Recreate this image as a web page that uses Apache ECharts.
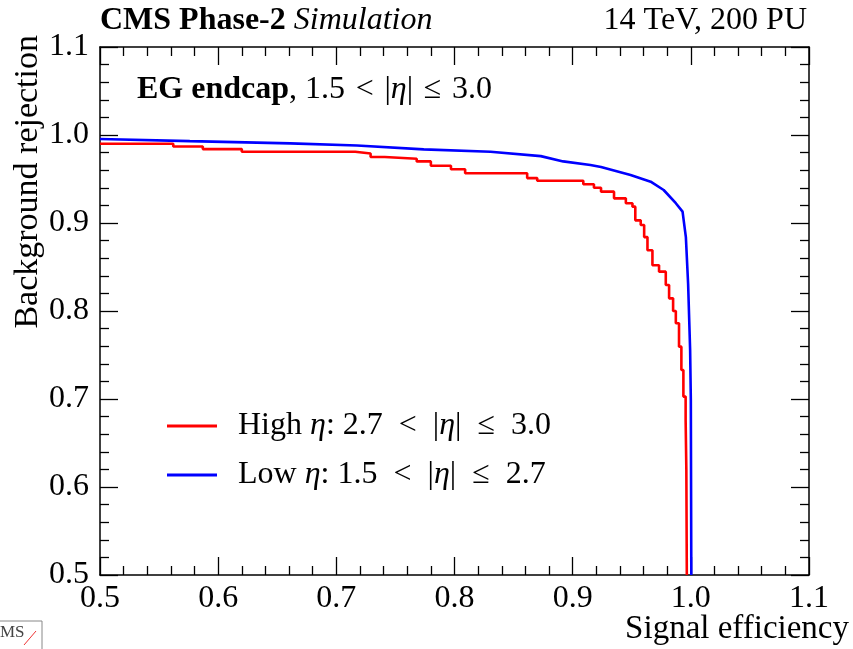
<!DOCTYPE html>
<html><head><meta charset="utf-8">
<script src="https://cdn.jsdelivr.net/npm/echarts@6/dist/echarts.min.js"></script>
<style>html,body{margin:0;padding:0;background:#fff}#c{width:853px;height:649px}</style>
</head><body><div id="c"></div>
<script>
// ---- data ----
const xTickLabels = ['0.5','0.6','0.7','0.8','0.9','1.0','1.1'];
const yTickLabels = ['0.5','0.6','0.7','0.8','0.9','1.0','1.1'];
const seriesNames = ['High η: 2.7 < |η| ≤ 3.0', 'Low η: 1.5 < |η| ≤ 2.7'];
// High eta (red), stepped ROC curve
const highEtaX = [0.500,0.562,0.587,0.620,0.716,0.729,0.741,0.768,0.780,0.797,0.809,0.8615,0.870,0.909,0.918,0.924,0.935,0.945,0.9506,0.953,0.9576,0.9605,0.9633,0.9675,0.9731,0.9788,0.9816,0.9850,0.9873,0.9900,0.9920,0.9937,0.9956,0.9962,0.9966];
const highEtaY = [0.990,0.987,0.984,0.981,0.979,0.975,0.973,0.970,0.965,0.961,0.9565,0.951,0.948,0.944,0.940,0.9356,0.928,0.9224,0.9186,0.903,0.8977,0.884,0.869,0.852,0.8447,0.8295,0.8144,0.800,0.786,0.7595,0.733,0.7027,0.676,0.620,0.500];
// Low eta (blue)
const lowEtaX = [0.500,0.576,0.661,0.7175,0.774,0.8305,0.873,0.892,0.915,0.924,0.949,0.966,0.977,0.9873,0.993,0.9958,0.9977,0.9994,1.0000,1.0004];
const lowEtaY = [0.9955,0.993,0.9905,0.988,0.9837,0.981,0.976,0.970,0.966,0.9636,0.9545,0.947,0.9375,0.9225,0.913,0.884,0.831,0.756,0.699,0.500];

const FONT = 'Liberation Serif';
const xMin = parseFloat(xTickLabels[0]), xMax = parseFloat(xTickLabels[xTickLabels.length-1]);
const yMin = parseFloat(yTickLabels[0]), yMax = parseFloat(yTickLabels[yTickLabels.length-1]);
const step = 0.1;

function pairs(xs, ys){ return xs.map((x,i)=>[x, ys[i]]); }

function mkAxis(kind, pos, labels){
  const isX = kind === 'x';
  return {
    type: 'value',
    position: pos,
    min: isX ? xMin : yMin,
    max: isX ? xMax : yMax,
    interval: step,
    axisLine: {show: true, onZero: false, lineStyle: {color: '#000', width: 1.5}},
    axisTick: {show: true, inside: true, length: 18, lineStyle: {color: '#000', width: 1.3}},
    minorTick: {show: true, splitNumber: 5, length: 9, lineStyle: {color: '#000', width: 1.3}},
    splitLine: {show: false},
    minorSplitLine: {show: false},
    axisLabel: labels ? {
      show: true,
      fontFamily: FONT, fontSize: 32, color: '#000',
      margin: isX ? 8 : 11,
      formatter: v => (isX ? xTickLabels : yTickLabels)[Math.round((v - (isX?xMin:yMin))/step)]
    } : {show: false}
  };
}

// math-like spacing around relation symbols
function mathSpace(s){ return s.replace(/ < /g, '  <  ').replace(/ ≤ /g, '  ≤  '); }

const chart = echarts.init(document.getElementById('c'), null, {renderer: 'canvas'});
const legendRich = {
  n: {fontFamily: FONT, fontSize: 32, color: '#000'},
  i: {fontFamily: FONT, fontSize: 32, fontStyle: 'italic', color: '#000'}
};
function etaRich(name){
  return mathSpace(name).split('η').map(s => s ? '{n|' + s + '}' : '').join('{i|η}');
}
chart.setOption({
  animation: false,
  backgroundColor: '#fff',
  grid: {left: 100, right: 44, top: 47, bottom: 74, containLabel: false},
  xAxis: [mkAxis('x','bottom',true), mkAxis('x','top',false)],
  yAxis: [mkAxis('y','left',true), mkAxis('y','right',false)],
  legend: {
    orient: 'vertical', left: 162, top: 405,
    icon: 'rect', itemWidth: 50, itemHeight: 3, itemGap: 17,
    data: seriesNames,
    formatter: etaRich,
    textStyle: {fontFamily: FONT, fontSize: 32, color: '#000', lineHeight: 32, padding: [0,0,0,16], rich: legendRich}
  },
  series: [
    {name: seriesNames[0], type: 'line', step: 'end', data: pairs(highEtaX, highEtaY), symbol: 'none',
     lineStyle: {color: '#ff0000', width: 2.6}, itemStyle: {color: '#ff0000'}, z: 3},
    {name: seriesNames[1], type: 'line', data: pairs(lowEtaX, lowEtaY), symbol: 'none',
     lineStyle: {color: '#0000ff', width: 2.6}, itemStyle: {color: '#0000ff'}, z: 4}
  ],
  graphic: [
    {type: 'text', left: 100, top: 5, style: {
      text: '{b|CMS Phase-2 }{i|Simulation}',
      rich: {
        b: {fontFamily: FONT, fontSize: 32, fontWeight: 'bold', fill: '#000'},
        i: {fontFamily: FONT, fontSize: 32, fontStyle: 'italic', fill: '#000'}
      }}},
    {type: 'text', right: 46, top: 5, style: {text: '14 TeV, 200 PU', fontFamily: FONT, fontSize: 32, fill: '#000'}},
    {type: 'text', left: 137, top: 74, style: {
      text: '{b|EG endcap}{n|, 1.5 \u200A<\u200A |}{i|η}{n|| \u200A≤\u200A 3.0}',
      rich: {
        b: {fontFamily: FONT, fontSize: 32, fontWeight: 'bold', fill: '#000'},
        n: {fontFamily: FONT, fontSize: 32, fill: '#000'},
        i: {fontFamily: FONT, fontSize: 32, fontStyle: 'italic', fill: '#000'}
      }}},
    {type: 'text', right: 4, top: 613, style: {text: 'Signal efficiency', fontFamily: FONT, fontSize: 33, fill: '#000'}},
    {type: 'text', x: 28, y: 35, rotation: Math.PI/2, style: {text: 'Background rejection', fontFamily: FONT, fontSize: 34, fill: '#000', align: 'right', verticalAlign: 'middle'}},
    {type: 'rect', shape: {x: -2, y: 621, width: 44, height: 32}, style: {fill: 'none', stroke: '#888', lineWidth: 1}},
    {type: 'text', x: 0, y: 624, style: {text: 'MS', fontFamily: FONT, fontSize: 17, fill: '#444'}},
    {type: 'line', shape: {x1: 24, y1: 645, x2: 36, y2: 631}, style: {stroke: '#e33', lineWidth: 1}}
  ]
});
</script>
</body></html>
